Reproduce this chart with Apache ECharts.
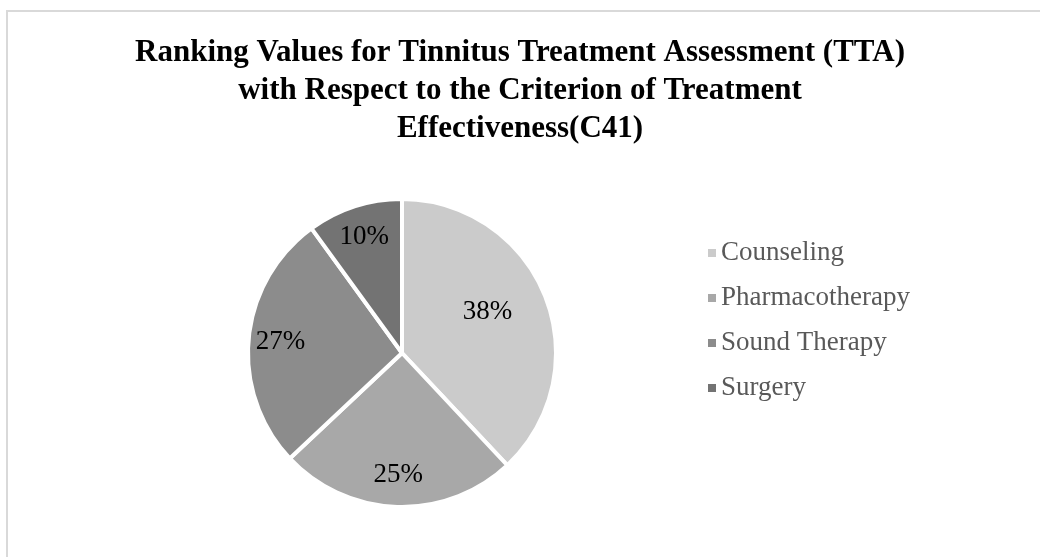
<!DOCTYPE html>
<html>
	<head>
		<meta charset="utf-8" />
		<title>TTA C41</title>
		<script src="https://cdn.jsdelivr.net/npm/echarts@6/dist/echarts.min.js"></script>
		<style>
			html, body { margin: 0; padding: 0; background: #fff; }
			#main { width: 1040px; height: 557px; }
		</style>
	</head>
	<body>
		<div id="main"></div>
		<script type="text/javascript">
			// 数据
			var treatments = ['Counseling', 'Pharmacotherapy', 'Sound Therapy', 'Surgery'];
			var shares = [38, 25, 27, 10];
			var greys = ['#cbcbcb', '#a8a8a8', '#8c8c8c', '#737373'];

			var serif = "'Liberation Serif', 'Times New Roman', serif";

			var pieData = [];
			var labelData = [];
			for (var i = 0; i < treatments.length; i++) {
				pieData.push({ name: treatments[i], value: shares[i], itemStyle: { color: greys[i] } });
				var item = { name: treatments[i], value: shares[i] };
				// Excel puts the big slice's label a bit closer to the centre
				if (i === 0) item.label = { offset: [-28, 4] };
				labelData.push(item);
			}

			var myChart = echarts.init(document.getElementById('main'));

			var option = {
				backgroundColor: '#fff',
				animation: false,
				graphic: [{
					type: 'rect',
					shape: { x: 7, y: 11, width: 1200, height: 800 },
					style: { fill: 'none', stroke: '#d9d9d9', lineWidth: 2 },
					silent: true
				}],
				title: {
					text: 'Ranking Values for Tinnitus Treatment Assessment (TTA)\nwith Respect to the Criterion of Treatment\nEffectiveness(C41)',
					left: 'center',
					top: 29,
					textStyle: {
						fontFamily: serif,
						fontWeight: 'bold',
						fontSize: 31,
						lineHeight: 38,
						color: '#000'
					}
				},
				legend: {
					orient: 'vertical',
					left: 703,
					top: 233,
					data: treatments,
					icon: 'rect',
					itemWidth: 8,
					itemHeight: 8,
					itemGap: 15,
					itemStyle: { borderWidth: 0 },
					textStyle: {
						fontFamily: serif,
						fontSize: 27,
						lineHeight: 30,
						color: '#595959'
					}
				},
				series: [
					{
						name: 'C41',
						type: 'pie',
						center: [402, 353],
						radius: 154,
						startAngle: 90,
						clockwise: true,
						label: { show: false },
						labelLine: { show: false },
						itemStyle: { borderColor: '#fff', borderWidth: 4 },
						emphasis: { disabled: true },
						data: pieData
					},
					{
						// 只用来放百分比标签
						name: 'labels',
						type: 'pie',
						center: [402, 353],
						radius: [84, 154],
						startAngle: 90,
						clockwise: true,
						silent: true,
						itemStyle: { color: 'rgba(0,0,0,0)', borderWidth: 0 },
						label: {
							show: true,
							position: 'inside',
							formatter: '{c}%',
							fontFamily: serif,
							fontSize: 27,
							color: '#000'
						},
						labelLine: { show: false },
						emphasis: { disabled: true },
						data: labelData
					}
				]
			};

			myChart.setOption(option);
		</script>
	</body>
</html>
